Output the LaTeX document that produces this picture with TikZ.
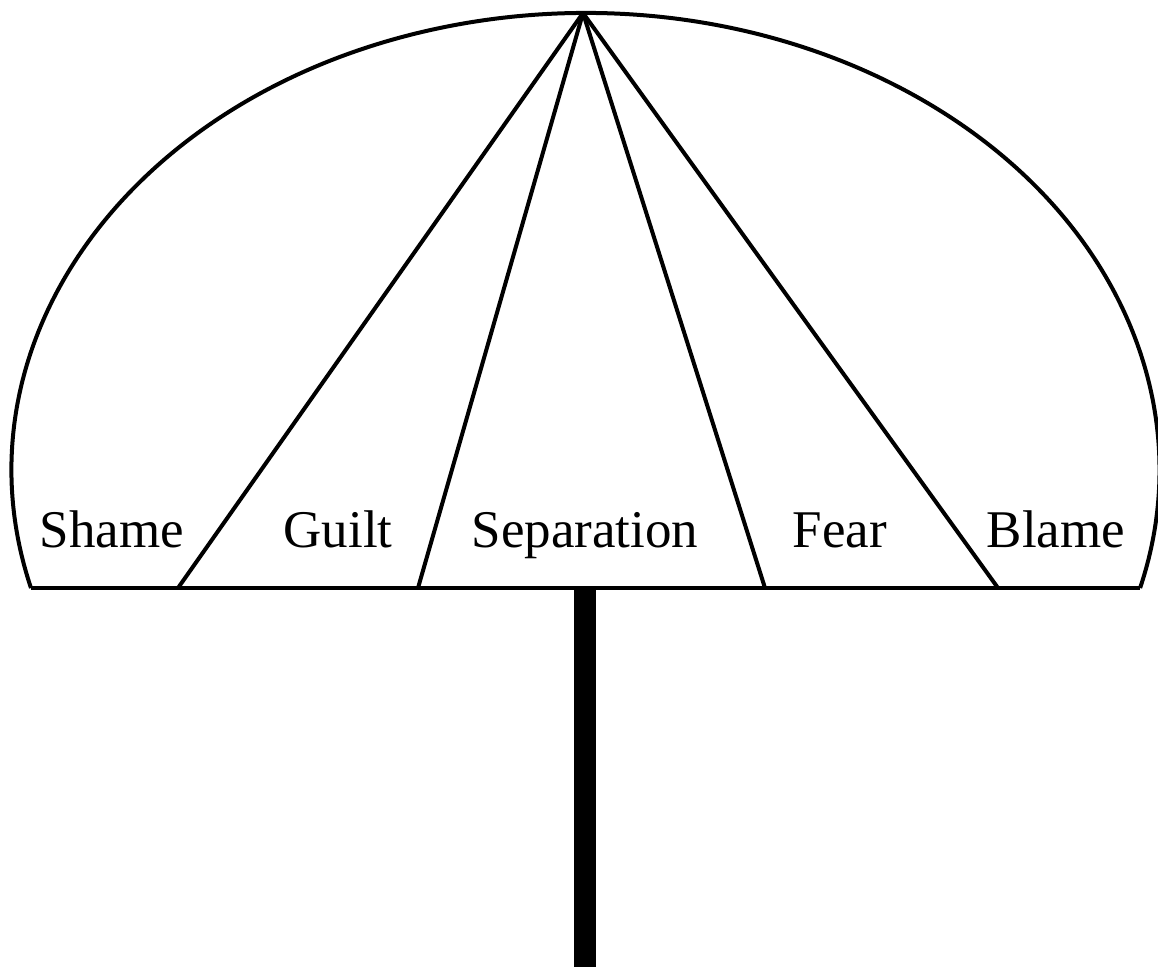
\documentclass[tikz,border=0pt]{standalone}
\usepackage{fontspec}
\setmainfont{Liberation Serif}
\usetikzlibrary{calc}

\begin{document}
\begin{tikzpicture}[x=1pt, y=-1pt, line width=4pt,
  lbl/.style={anchor=base, inner sep=0pt, font=\fontsize{53}{60}\selectfont}]
\useasboundingbox (0,0) rectangle (1158,967);
% canopy
\draw (31,588) coordinate(L) arc[start angle=194.96, end angle=-14.96, x radius=574, y radius=-457] coordinate(R);
\coordinate (T) at (583,13);
\draw (L) -- (1140,588) coordinate(E);
% spokes
\draw (T) -- (178,588) coordinate(s1);
\draw (T) -- (418,588) coordinate(s2);
\draw (T) -- (765,588) coordinate(s3);
\draw (T) -- (998,588) coordinate(s4);
% handle
\coordinate (H) at (585,590);
\draw[line width=22pt] (H) -- (585,967) coordinate(F);
% labels
\node[lbl] (shame) at (112,547) {Shame};
\node[lbl] (guilt) at (338,547) {Guilt};
\node[lbl] (sep) at (585,547) {Separation};
\node[lbl] (fear) at (840,547) {Fear};
\node[lbl] (blame) at (1056,547) {Blame};
\end{tikzpicture}
\end{document}
